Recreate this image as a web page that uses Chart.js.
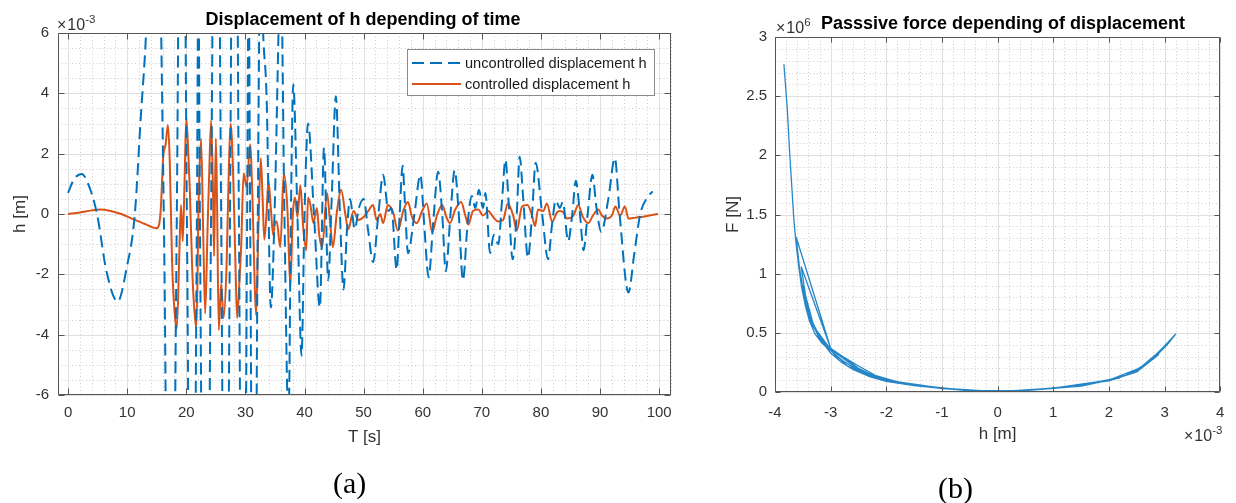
<!DOCTYPE html>
<html>
<head>
<meta charset="utf-8">
<script src="https://cdn.jsdelivr.net/npm/chart.js@4.4.0/dist/chart.umd.min.js"></script>
<style>
  html,body{margin:0;padding:0;background:#fff;}
  body{width:1236px;height:503px;overflow:hidden;position:relative;font-family:"Liberation Sans",Arial,sans-serif;}
  #ca{position:absolute;left:0;top:0;}
  #cb{position:absolute;left:700px;top:0;}
  .t{position:absolute;white-space:nowrap;color:#262626;}
  .ttl{font-weight:bold;font-size:18px;line-height:20px;color:#000;}
  .exp{font-size:16px;line-height:18px;color:#333;}
  .exp i{font-style:normal;margin-right:1px;}
  .exp span{font-size:11.5px;position:relative;top:-7px;}
  .cap{font-family:"Liberation Serif","Times New Roman",serif;font-size:30px;line-height:30px;color:#000;}
</style>
</head>
<body>
<canvas id="ca" width="700" height="503"></canvas>
<canvas id="cb" width="536" height="503"></canvas>

<div class="t ttl" style="left:363px;top:9px;transform:translateX(-50%);">Displacement of h depending of time</div>
<div class="t ttl" style="left:1003px;top:13px;transform:translateX(-50%);">Passsive force depending of displacement</div>
<div class="t exp" style="left:57px;top:16px;"><i>×</i>10<span>-3</span></div>
<div class="t exp" style="left:776px;top:19px;"><i>×</i>10<span>6</span></div>
<div class="t exp" style="left:1184px;top:427px;"><i>×</i>10<span>-3</span></div>
<div class="t cap" style="left:333px;top:468px;">(a)</div>
<div class="t cap" style="left:938px;top:473px;">(b)</div>

<script>
// ---------- DATA (panel a) ----------
const LABEL_UNC = 'uncontrolled displacement h';
const LABEL_CTRL = 'controlled displacement h';

const T_UNC = [0,1.0,2.3,3.5,4.9,6.5,8.4,9.9,11.3,12.3,13.2,14.7,16.2,17.3,18.4,19.25,20.1,20.95,21.8,22.05,22.3,23.25,24.2,25.05,25.9,26.65,27.4,28.15,28.9,29.6,30.3,30.55,30.8,31.45,32.1,32.55,33.0,33.6,34.3,35.0,35.6,35.95,36.6,37.3,37.7,38.1,38.8,39.5,40.0,40.6,41.6,42.6,43.3,44.0,44.6,45.3,46.0,46.6,47.2,47.7,48.5,49.2,50.0,50.8,51.6,52.5,53.3,54.2,54.7,55.6,56.1,56.6,57.0,57.5,58.6,59.6,60.3,61.0,61.8,62.6,63.3,63.9,64.7,65.4,66.1,66.8,67.6,68.3,68.9,69.5,70.2,70.6,71.4,72.0,72.8,73.4,74.0,74.5,75.2,75.9,76.4,77.0,77.8,78.5,79.1,80.2,81.2,81.9,82.5,83.2,83.7,84.6,85.3,85.9,86.6,87.2,87.9,88.7,89.4,90.2,91.4,92.5,93.3,94.8,95.8,96.8,98.0,98.9];
const H_UNC = [0.7,1.15,1.33,0.95,0,-1.9,-2.9,-1.8,0,3.2,6,14,0,-20,0,20,0,-20,0,8,0,-20,0,20,0,-20,0,20,0,-20,0,8,0,-18,0,9,6,3.8,-3.1,0.5,6,9,0,-7,0,4.3,0,-4.7,0,3.0,0,-3.1,2.2,-2.2,0.5,3.9,0,-2.5,-0.5,0.5,-0.5,0.2,0.5,-0.6,-1.6,0,1.3,0.1,0.2,-1.85,0,1.6,0.3,-1.3,0,1.3,-0.5,-2.1,-0.2,1.4,0,-1.9,0,1.45,0,-2.2,-0.3,0.6,0.2,0.8,0.2,0.7,-1.3,-0.7,-1.0,0.4,1.8,0.5,-1.5,0,1.9,0.5,-1.45,0,1.7,0,-1.5,-0.3,0.45,0.2,0.4,-0.9,0,1.1,0,-1.2,0,1.3,0.2,-0.6,0.5,1.85,0,-2.6,-1.3,0,0.55,0.75];

const T_CTRL = [0,2,4,5.5,7,9,11,13,15,15.4,15.7,16.1,16.5,16.9,17.2,17.6,18.0,18.4,18.8,19.1,19.4,19.7,20.0,20.3,20.6,21.0,21.3,21.7,22.1,22.5,22.9,23.2,23.6,23.9,24.2,24.5,24.7,25.0,25.2,25.5,25.9,26.3,26.8,27.2,27.5,27.9,28.3,28.6,29.0,29.3,29.7,30.2,30.8,31.2,31.5,31.8,32.2,32.6,32.9,33.2,33.6,33.9,34.3,34.7,35.0,35.3,35.9,36.5,37.1,37.6,38.0,38.4,38.8,39.3,39.8,40.3,40.6,41.0,41.5,42.1,42.5,43.0,43.8,44.3,44.8,45.5,46.2,46.9,47.4,48.3,49.1,50.0,50.8,51.6,52.2,52.8,53.3,54.1,55.0,55.8,56.7,57.5,58.2,59.0,59.9,60.7,61.6,62.4,63.3,64.0,64.6,65.5,66.5,67.2,67.7,68.5,69.4,70.2,71.1,71.9,72.8,73.6,74.4,75.3,75.9,76.8,77.7,78.5,79.0,79.5,80.4,81.0,81.9,82.7,83.2,83.8,84.4,85.5,86.3,87.1,88.0,88.8,89.7,90.3,91.2,92.0,92.6,93.4,94.2,94.8,96.0,97.5,99.8];
const H_CTRL = [0,0.05,0.12,0.15,0.11,0,-0.17,-0.33,-0.47,-0.35,0.2,1.9,2.3,2.95,1.8,-1.6,-3.2,-3.8,-1.5,0.3,-0.9,1.0,3.2,2.2,0.8,-1.8,-3.0,-3.8,0.5,2.5,-1.0,-3.3,-0.5,1.5,3.1,1.0,-1.4,2.5,0.5,-3.85,-2.3,-3.45,-1.8,1.5,3.0,1.5,-1.5,-3.45,-2.2,-1.0,1.35,0.9,2.3,0.5,-1.8,-3.35,-0.5,1.85,0.6,-0.85,0.1,1.1,0.2,-0.7,-0.3,-0.25,-1.1,1.35,0.2,-2.4,-0.1,0.55,-0.1,0.95,-0.5,-1.2,0.55,0.3,-0.3,0.2,-0.7,-1.1,0.7,-0.2,-1.1,0.1,0.8,0,-0.5,0.1,-0.2,-0.1,0.1,0.3,-0.2,0,-0.3,0.3,0.05,-0.55,0.1,0.4,-0.1,-0.3,0.1,0.35,-0.6,-0.05,0.3,-0.1,-0.3,0.15,0.4,-0.05,-0.35,0.1,0.15,-0.05,0.1,-0.1,-0.25,-0.2,0.35,-0.05,-0.55,0.25,0.3,-0.05,-0.4,0.15,0.1,0.35,-0.25,0.05,0.1,0.05,-0.15,-0.05,0.3,-0.1,-0.3,-0.05,0.15,-0.05,-0.15,-0.05,0.25,-0.05,0.25,-0.15,-0.12,-0.08,0];

const X_TICKS_A = [0,10,20,30,40,50,60,70,80,90,100];
const Y_TICKS_A = [-6,-4,-2,0,2,4,6];

// ---------- DATA (panel b) ----------
const H_PF = [-3.84,-3.78,-3.74,-3.70,-3.66,-3.62,-3.57,-3.52,-3.45,-3.38,-3.28,-3.15,-3.0,-2.8,-2.6,-2.4,-2.2,-2.0,-1.6,-1.2,-0.8,-0.4,0,0.4,0.8,1.2,1.6,2.0,2.3,2.5,2.6,2.7,2.85,3.0,3.1,3.2,
  3.05,2.9,2.7,2.5,2.3,2.0,1.5,1.0,0.5,0,-0.5,-1.0,-1.5,-2.0,-2.3,-2.6,-2.8,-3.0,-3.2,-3.35,-3.48,-3.56,-3.62,
  -3.0,-2.75,-2.5,-2.2,-1.8,-1.0,0,1.0,2.0,2.5,2.8,2.9,
  2.6,2.0,1.0,0,-1.0,-2.0,-2.5,-2.9,-3.2,-3.4,-3.53,
  -3.0,-2.5,-2.2,-1.5,-0.5,0.5,1.5,2.2,
  1.5,0.5,-0.5,-1.5,-2.2,-2.7,-3.1,-3.35,-3.45,-3.5,
  -3.3,-3.0,-2.5,-2.0,-1.0,0];
const F_PF = [2.77,2.4,2.05,1.75,1.45,1.25,1.05,0.88,0.72,0.6,0.49,0.41,0.35,0.27,0.21,0.16,0.12,0.095,0.065,0.04,0.022,0.01,0.003,0.01,0.025,0.04,0.06,0.1,0.14,0.18,0.22,0.26,0.32,0.39,0.44,0.49,
  0.40,0.33,0.25,0.19,0.14,0.105,0.06,0.035,0.014,0.004,0.012,0.03,0.055,0.09,0.13,0.19,0.25,0.33,0.45,0.6,0.82,1.05,1.31,
  0.37,0.29,0.22,0.14,0.085,0.03,0.004,0.03,0.095,0.17,0.28,0.32,
  0.21,0.1,0.033,0.004,0.032,0.1,0.18,0.3,0.47,0.66,1.06,
  0.37,0.2,0.13,0.055,0.01,0.012,0.05,0.12,
  0.055,0.013,0.012,0.06,0.115,0.22,0.4,0.58,0.75,0.9,
  0.55,0.36,0.19,0.09,0.028,0];

const X_TICKS_B = [-4,-3,-2,-1,0,1,2,3,4];
const Y_TICKS_B = [0,0.5,1,1.5,2,2.5,3];

// ---------- helpers ----------
const FONT = '"Liberation Sans", Arial, sans-serif';
const TXT = '#333333';
const xy = (X, Y) => X.map((v, i) => ({x: v, y: Y[i]}));

const matlabFrame = {
  id: 'matlabFrame',
  beforeDatasetsDraw(chart, args, o) {
    const {ctx, chartArea: a, scales: {x, y}} = chart;
    ctx.save();
    ctx.lineWidth = 1;
    ctx.strokeStyle = '#cdcdcd';
    ctx.setLineDash([1, 2.5]);
    ctx.beginPath();
    for (let i = Math.ceil(x.min / o.xMinor); i * o.xMinor <= x.max + 1e-9; i++) {
      const p = Math.round(x.getPixelForValue(i * o.xMinor)) + 0.5;
      ctx.moveTo(p, a.top); ctx.lineTo(p, a.bottom);
    }
    for (let i = Math.ceil(y.min / o.yMinor); i * o.yMinor <= y.max + 1e-9; i++) {
      const p = Math.round(y.getPixelForValue(i * o.yMinor)) + 0.5;
      ctx.moveTo(a.left, p); ctx.lineTo(a.right, p);
    }
    ctx.stroke();
    ctx.setLineDash([]);
    ctx.strokeStyle = '#e0e0e0';
    ctx.beginPath();
    x.ticks.forEach(t => { const p = Math.round(x.getPixelForValue(t.value)) + 0.5; ctx.moveTo(p, a.top); ctx.lineTo(p, a.bottom); });
    y.ticks.forEach(t => { const p = Math.round(y.getPixelForValue(t.value)) + 0.5; ctx.moveTo(a.left, p); ctx.lineTo(a.right, p); });
    ctx.stroke();
    ctx.restore();
  },
  afterDatasetsDraw(chart, args, o) {
    const {ctx, chartArea: a, scales: {x, y}} = chart;
    ctx.save();
    ctx.strokeStyle = '#555';
    ctx.lineWidth = 1;
    ctx.setLineDash([]);
    const L = Math.round(a.left) + 0.5, R = Math.round(a.right) - 0.5, T = Math.round(a.top) + 0.5, B = Math.round(a.bottom) - 0.5;
    ctx.beginPath();
    ctx.rect(L, T, R - L, B - T);
    const tl = o.tickLen;
    x.ticks.forEach(t => { const p = Math.round(x.getPixelForValue(t.value)) + 0.5; ctx.moveTo(p, B); ctx.lineTo(p, B - tl); ctx.moveTo(p, T); ctx.lineTo(p, T + tl); });
    y.ticks.forEach(t => { const p = Math.round(y.getPixelForValue(t.value)) + 0.5; ctx.moveTo(L, p); ctx.lineTo(L + tl, p); ctx.moveTo(R, p); ctx.lineTo(R - tl, p); });
    ctx.stroke();
    ctx.restore();
  }
};

const boxLegend = {
  id: 'boxLegend',
  afterDraw(chart, args, o) {
    if (!o.show) return;
    const ctx = chart.ctx;
    ctx.save();
    ctx.fillStyle = '#fff';
    ctx.fillRect(o.x, o.y, o.w, o.h);
    ctx.strokeStyle = '#8a8a8a';
    ctx.lineWidth = 1;
    ctx.strokeRect(o.x + 0.5, o.y + 0.5, o.w, o.h);
    chart.data.datasets.forEach((ds, i) => {
      const yy = o.y + 14 + i * 21;
      ctx.beginPath();
      ctx.setLineDash(ds.borderDash || []);
      ctx.strokeStyle = ds.borderColor;
      ctx.lineWidth = ds.borderWidth;
      ctx.moveTo(o.x + 5, yy); ctx.lineTo(o.x + 54, yy);
      ctx.stroke();
      ctx.setLineDash([]);
      ctx.fillStyle = '#1a1a1a';
      ctx.font = '14.6px ' + FONT;
      ctx.textBaseline = 'middle';
      ctx.fillText(ds.label, o.x + 58, yy + 1);
    });
    ctx.restore();
  }
};

function axis(ticksArr, min, max, size, horizontal, tickPad, titleText, titlePad) {
  const cfg = {
    type: 'linear', min, max,
    afterBuildTicks: s => { s.ticks = ticksArr.map(v => ({value: v})); },
    grid: {display: false, drawTicks: false},
    border: {display: false},
    ticks: {padding: tickPad, autoSkip: false, maxRotation: 0, color: TXT, font: {size: 15, family: FONT}, callback: v => String(v)},
    title: {display: true, text: titleText, color: TXT, font: {size: 17, family: FONT}, padding: titlePad}
  };
  if (horizontal) cfg.afterFit = s => { s.height = size; };
  else cfg.afterFit = s => { s.width = size; };
  return cfg;
}

// ---------- chart a ----------
new Chart(document.getElementById('ca'), {
  type: 'scatter',
  data: {
    datasets: [
      {label: LABEL_UNC, data: xy(T_UNC, H_UNC), showLine: true, borderColor: '#0072BD', borderWidth: 2, borderDash: [12, 6], pointRadius: 0, cubicInterpolationMode: 'monotone', clip: 0},
      {label: LABEL_CTRL, data: xy(T_CTRL, H_CTRL), showLine: true, borderColor: '#D95319', borderWidth: 2, pointRadius: 0, cubicInterpolationMode: 'monotone', clip: 0}
    ]
  },
  options: {
    responsive: false, animation: false, events: [],
    layout: {autoPadding: false, padding: {left: 0, top: 33, right: 29, bottom: 0}},
    plugins: {
      legend: {display: false}, tooltip: {enabled: false}, title: {display: false},
      matlabFrame: {xMinor: 2, yMinor: 0.5, tickLen: 6},
      boxLegend: {show: true, x: 407, y: 49, w: 247, h: 46}
    },
    scales: {
      x: axis(X_TICKS_A, -1.7, 102, 108, true, 8.6, 'T [s]', {top: 0, bottom: 55}),
      y: axis(Y_TICKS_A, -6, 6, 58, false, 9, 'h [m]', {top: 10, bottom: 0})
    }
  },
  plugins: [matlabFrame, boxLegend]
});

// ---------- chart b ----------
new Chart(document.getElementById('cb'), {
  type: 'scatter',
  data: {
    datasets: [
      {label: 'F(h)', data: xy(H_PF, F_PF), showLine: true, borderColor: 'rgba(0,114,189,0.85)', borderWidth: 1.3, pointRadius: 0, tension: 0, clip: 0}
    ]
  },
  options: {
    responsive: false, animation: false, events: [],
    layout: {autoPadding: false, padding: {left: 0, top: 37, right: 7, bottom: 0}},
    plugins: {
      legend: {display: false}, tooltip: {enabled: false}, title: {display: false},
      matlabFrame: {xMinor: 0.2, yMinor: 0.1, tickLen: 5},
      boxLegend: {show: false}
    },
    scales: {
      x: axis(X_TICKS_B, -4, 4, 111, true, 11.6, 'h [m]', {top: 0, bottom: 58}),
      y: axis(Y_TICKS_B, 0, 3, 75, false, 8, 'F [N]', {top: 23, bottom: 0})
    }
  },
  plugins: [matlabFrame, boxLegend]
});
</script>
</body>
</html>
